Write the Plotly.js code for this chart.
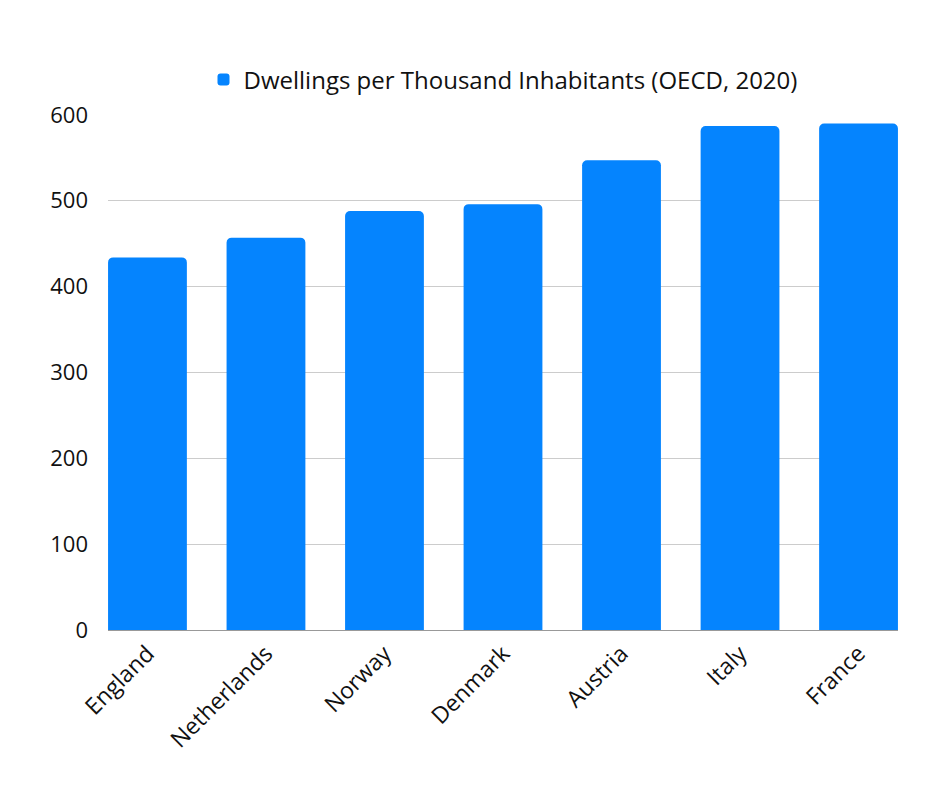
<!DOCTYPE html>
<html>
<head>
<meta charset="utf-8">
<script src="https://cdn.plot.ly/plotly-3.0.1.min.js"></script>
<style>html,body{margin:0;padding:0;background:#fff;}#chart{width:940px;height:788px;}</style>
</head>
<body>
<div id="chart"></div>
<script>
const countries = ["England", "Netherlands", "Norway", "Denmark", "Austria", "Italy", "France"];
const dwellings = [434, 457, 488, 496, 547, 587, 590];
const seriesName = "Dwellings per Thousand Inhabitants (OECD, 2020)";
const yTicks = [0, 100, 200, 300, 400, 500, 600];

const trace = {
  type: "bar",
  x: countries,
  y: dwellings,
  name: seriesName,
  marker: {color: "#0584FE", cornerradius: 5},
  hoverinfo: "x+y"
};

const layout = {
  width: 940,
  height: 788,
  paper_bgcolor: "#ffffff",
  plot_bgcolor: "#ffffff",
  font: {family: "'Open Sans', 'Noto Sans', sans-serif", size: 22, color: "#111111"},
  margin: {l: 108, r: 42, t: 114, b: 158},
  bargap: 0.335,
  showlegend: true,
  legend: {
    orientation: "h",
    x: 0.5, xanchor: "center",
    y: 1.066, yanchor: "middle",
    font: {size: 24, color: "#111111"}
  },
  xaxis: {
    type: "category",
    range: [-0.333, 6.333],
    tickangle: -45,
    showgrid: false,
    showline: true,
    linecolor: "#999999",
    linewidth: 1,
    ticks: "",
    tickfont: {size: 23}
  },
  yaxis: {
    range: [0, 601],
    tickvals: yTicks,
    ticktext: yTicks.map(String),
    showgrid: true,
    gridcolor: "#cccccc",
    gridwidth: 1,
    zeroline: false,
    showline: false,
    ticks: "",
    ticklabelstandoff: 19,
    tickfont: {size: 22}
  }
};

Plotly.newPlot("chart", [trace], layout, {displayModeBar: false, staticPlot: true});
</script>
</body>
</html>
